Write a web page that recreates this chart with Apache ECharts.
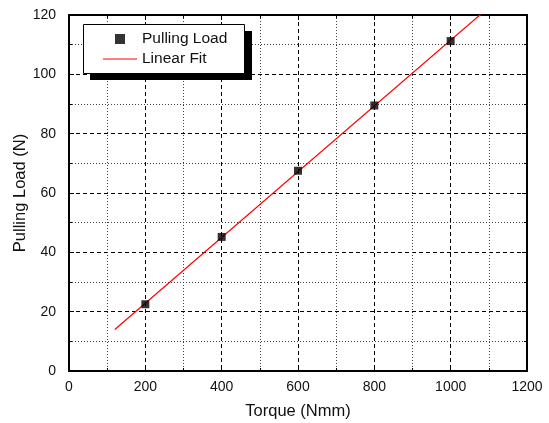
<!DOCTYPE html>
<html>
<head>
<meta charset="utf-8">
<script src="https://cdn.jsdelivr.net/npm/echarts@6/dist/echarts.min.js"></script>
<style>
  html, body { margin: 0; padding: 0; background: #fff; }
  #chart { width: 549px; height: 423px; }
</style>
</head>
<body>
<div id="chart"></div>
<script>
// measured points
var torque = [200, 400, 600, 800, 1000];
var pullingLoad = [22.5, 45.2, 67.5, 89.5, 111.2];
// linear fit end points (clipped at the top of the plot)
var fitX = [120, 1100];
var fitY = [13.97, 122.6];

var chart = echarts.init(document.getElementById("chart"));

var font = "Liberation Sans, Arial, sans-serif";

function axisBase(show) {
  return {
    axisLine: { show: true, onZero: false, lineStyle: { color: "#000", width: 2 } },
    axisTick: { show: true, inside: true, length: 5, lineStyle: { color: "#000", width: 1 } },
    minorTick: { show: true, splitNumber: 2, length: 3, lineStyle: { color: "#000", width: 1 } },
    axisLabel: {
      show: show, color: "#111", fontSize: 14, fontFamily: font, margin: 9,
      formatter: function (v) { return String(v); }
    }
  };
}

var xMain = Object.assign(axisBase(true), {
  type: "value",
  min: 0,
  max: 1200,
  interval: 200,
  position: "bottom",
  name: "Torque (Nmm)",
  nameLocation: "middle",
  nameGap: 32,
  nameMoveOverlap: false,
  nameTextStyle: { color: "#111", fontSize: 16.5, fontFamily: font },
  splitLine: { show: true, lineStyle: { color: "#000", type: [4, 3], width: 1 } },
  minorSplitLine: { show: true, lineStyle: { color: "#444", type: [1, 2], width: 1 } }
});
var xTop = Object.assign(axisBase(false), {
  type: "value", min: 0, max: 1200, interval: 200, position: "top",
  splitLine: { show: false }
});
var yMain = Object.assign(axisBase(true), {
  type: "value",
  min: 0,
  max: 120,
  interval: 20,
  position: "left",
  name: "Pulling Load (N)",
  nameLocation: "middle",
  nameGap: 40,
  nameMoveOverlap: false,
  nameTextStyle: { color: "#111", fontSize: 16.5, fontFamily: font },
  splitLine: { show: true, lineStyle: { color: "#000", type: [4, 3], width: 1 } },
  minorSplitLine: { show: true, lineStyle: { color: "#444", type: [1, 2], width: 1 } }
});
yMain.axisLabel.margin = 13;
var yRight = Object.assign(axisBase(false), {
  type: "value", min: 0, max: 120, interval: 20, position: "right",
  splitLine: { show: false }
});

chart.setOption({
  animation: false,
  backgroundColor: "#fff",
  grid: { left: 69, right: 22, top: 15, bottom: 52, outerBoundsMode: "none", containLabel: false },
  // legend frame with a hard drop shadow
  graphic: [
    {
      type: "rect", left: 90, top: 31, z: 20,
      shape: { width: 162, height: 49 },
      style: { fill: "#000" }
    },
    {
      type: "rect", left: 83, top: 24, z: 21,
      shape: { width: 161, height: 49 },
      style: { fill: "#fff", stroke: "#000", lineWidth: 1 }
    }
  ],
  legend: {
    orient: "vertical",
    left: 83,
    top: 24,
    z: 30,
    padding: [7, 10, 6, 20],
    itemGap: 4,
    itemWidth: 34,
    itemHeight: 10,
    textStyle: { color: "#111", fontSize: 15.5, fontFamily: font },
    data: [
      { name: "Pulling Load", icon: "path://M0,0H8V8H0Z", itemStyle: { color: "#000" } },
      { name: "Linear Fit", icon: "path://M0,0H34V1.2H0Z", itemStyle: { color: "#ff0000" } }
    ]
  },
  xAxis: [xMain, xTop],
  yAxis: [yMain, yRight],
  series: [
    {
      name: "Linear Fit",
      type: "line",
      data: fitX.map(function (x, i) { return [x, fitY[i]]; }),
      showSymbol: false,
      symbol: "none",
      clip: true,
      lineStyle: { color: "#ff0000", width: 1.2 },
      itemStyle: { color: "#ff0000" },
      z: 3
    },
    {
      name: "Pulling Load",
      type: "scatter",
      data: torque.map(function (x, i) { return [x, pullingLoad[i]]; }),
      symbol: "rect",
      symbolSize: 8,
      itemStyle: { color: "#000" },
      z: 4
    }
  ]
});
</script>
</body>
</html>
